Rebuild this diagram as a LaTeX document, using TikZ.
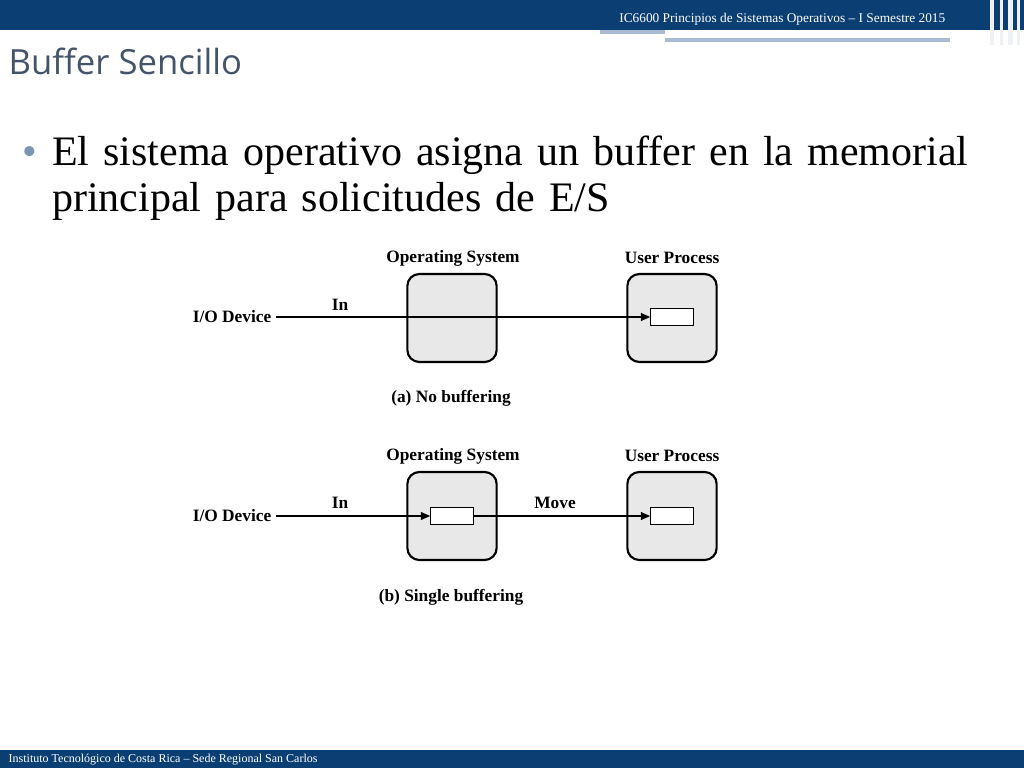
\documentclass[tikz,border=0pt]{standalone}
\usepackage{fontspec}
\setmainfont{Liberation Serif}
\newfontfamily\hdsans{Open Sans}
\usetikzlibrary{arrows.meta}
\definecolor{navy}{HTML}{0B3F73}
\definecolor{steel}{HTML}{A9BBD0}
\definecolor{titlec}{HTML}{44546A}
\begin{document}
\begin{tikzpicture}[x=0.75pt,y=-0.75pt,
  box/.style={draw,line width=1.6pt,rounded corners=9pt,fill=gray!18,minimum width=67pt,minimum height=66pt,inner sep=0},
  buf/.style={draw,fill=white,line width=0.8pt,minimum width=32pt,minimum height=13pt,inner sep=0},
  lbl/.style={font=\bfseries\fontsize{13}{15}\selectfont},
  arr/.style={line width=0.8pt,-{Triangle[length=7pt,width=6pt]}}]
\useasboundingbox (0,0) rectangle (1024,768);
\fill[navy] (0,0) rectangle (1024,30);
\fill[steel] (600,30) rectangle (665,34);
\fill[steel] (665,38) rectangle (950,42);
\foreach \x/\w in {990/4,1000/3,1008/5,1017/3}{\fill[white!80!steel] (\x,0) rectangle (\x+\w,45);}
\node[white,font=\fontsize{10}{12}\selectfont,anchor=east] (hdr) at (950,19) {IC6600 Principios de Sistemas Operativos – I Semestre 2015};
\fill[navy] (0,750) rectangle (1024,768);
\node[white,font=\fontsize{9}{10}\selectfont,anchor=west] (ftr) at (4,760) {Instituto Tecnológico de Costa Rica – Sede Regional San Carlos};
\node[titlec,font=\hdsans\fontsize{26}{30}\selectfont,anchor=west] (title) at (4,61) {Buffer Sencillo};
\node[anchor=north west,text width=700pt,align=left,font=\fontsize{31.5}{34}\selectfont,inner sep=0] (body) at (52,136)
 {\makebox[0pt][r]{\textcolor{steel!70!navy}{\textbullet}\hspace{0.35em}}El sistema operativo asigna un buffer en la memorial\\principal para solicitudes de E/S};
% (a)
\node[box] (os1) at (452,318) {};
\node[box] (up1) at (672,318) {};
\node[buf] (b1) at (672,317) {};
\node[lbl] (io1) at (232,317) {I/O Device};
\draw[arr] (io1.east) -- (b1.west);
\node[lbl] (in1) at (340,305) {In};
\node[lbl] (osl1) at (453,258) {Operating System};
\node[lbl] (upl1) at (672,258) {User Process};
\node[lbl] (cap1) at (451,398) {(a) No buffering};
% (b)
\node[box] (os2) at (452,516) {};
\node[box] (up2) at (672,516) {};
\node[buf] (b2) at (452,516) {};
\node[buf] (b3) at (672,516) {};
\node[lbl] (io2) at (232,516) {I/O Device};
\draw[arr] (io2.east) -- (b2.west);
\draw[arr] (b2.east) -- (b3.west);
\node[lbl] (in2) at (340,503) {In};
\node[lbl] (mv) at (555,503) {Move};
\node[lbl] (osl2) at (453,456) {Operating System};
\node[lbl] (upl2) at (672,456) {User Process};
\node[lbl] (cap2) at (451,597) {(b) Single buffering};
\end{tikzpicture}
\end{document}
